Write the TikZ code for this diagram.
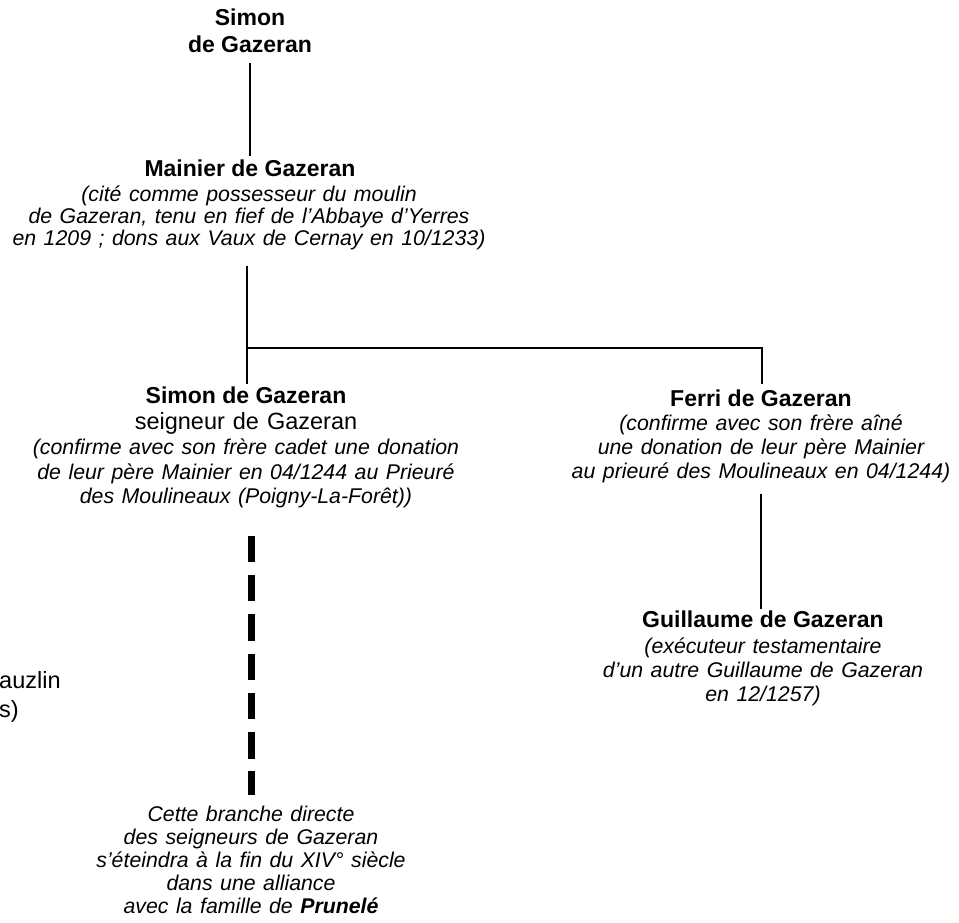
\documentclass[tikz,border=0pt]{standalone}
\usepackage{fontspec}
\setmainfont{Liberation Sans}
\newcommand\gzNameFont{\fontsize{23}{27}\selectfont\bfseries}
\newcommand\gzDescFont{\fontsize{21.3}{24}\selectfont\itshape\spaceskip 7.5pt\relax}
\newcommand\gzRegFont{\fontsize{23.5}{27}\selectfont\spaceskip 8pt\relax}
\begin{document}
\begin{tikzpicture}[x=1pt,y=-1pt,
  nm/.style={font=\gzNameFont, anchor=base, inner sep=0pt},
  dsc/.style={font=\gzDescFont, anchor=base, inner sep=0pt},
  reg/.style={font=\gzRegFont, anchor=base, inner sep=0pt},
  link/.style={line width=2.5pt},
  dashline/.style={line width=7pt, dash pattern=on 26.5pt off 12.8pt}]
\useasboundingbox (0,0) rectangle (959,923);
\fill[white] (0,0) rectangle (959,923);

% top ancestor
\node[nm] (simA) at (250,26) {Simon};
\node[nm] (simB) at (250,53) {de Gazeran};

% Mainier
\node[nm] (main) at (250,176) {Mainier de Gazeran};
\node[dsc] (mainD1) at (249,201) {(cité comme possesseur du moulin};
\node[dsc] (mainD2) at (249,223) {de Gazeran, tenu en fief de l’Abbaye d’Yerres};
\node[dsc] (mainD3) at (249,245) {en 1209 ; dons aux Vaux de Cernay en 10/1233)};

% Simon (son)
\node[nm] (simon) at (246,403) {Simon de Gazeran};
\node[reg] (simonR) at (246,429) {seigneur de Gazeran};
\node[dsc] (simonD1) at (246,454) {(confirme avec son frère cadet une donation};
\node[dsc] (simonD2) at (246,479) {de leur père Mainier en 04/1244 au Prieuré};
\node[dsc] (simonD3) at (246,503) {des Moulineaux (Poigny-La-Forêt))};

% Ferri
\node[nm] (ferri) at (761,406) {Ferri de Gazeran};
\node[dsc] (ferriD1) at (761,430) {(confirme avec son frère aîné};
\node[dsc] (ferriD2) at (761,454) {une donation de leur père Mainier};
\node[dsc] (ferriD3) at (761,478) {au prieuré des Moulineaux en 04/1244)};

% Guillaume
\node[nm] (guil) at (763,627) {Guillaume de Gazeran};
\node[dsc] (guilD1) at (763,653) {(exécuteur testamentaire};
\node[dsc] (guilD2) at (763,677) {d’un autre Guillaume de Gazeran};
\node[dsc] (guilD3) at (763,701) {en 12/1257)};

% end of branch
\node[dsc] (endD1) at (251,821) {Cette branche directe};
\node[dsc] (endD2) at (251,844) {des seigneurs de Gazeran};
\node[dsc] (endD3) at (251,867) {s’éteindra à la fin du XIV° siècle};
\node[dsc] (endD4) at (251,890) {dans une alliance};
\node[dsc] (endD5) at (251,913) {avec la famille de {\bfseries Prunelé}};

% cut-off text at the left edge
\node[reg, anchor=base west] (leftA) at (-1,688) {auzlin};
\node[reg, anchor=base west] (leftB) at (-1,717) {s)};

% connectors
\coordinate (jct) at (247,348);
\coordinate (jctR) at (762,348);
\draw[link, shorten <=10pt, shorten >=3pt] (simB.south) -- (simB.south |- main.north);
\draw[link, shorten <=16pt] (jct |- mainD3.south) -- (jct);
\draw[link, shorten <=2pt, shorten >=5pt] (jct |- simon.north) -- (jct) -- (jctR) -- (jctR |- ferri.north);
\draw[link, shorten <=11pt, shorten >=1pt] (ferriD3.south) -- (ferriD3.south |- guil.north);
\draw[dashline, shorten <=28pt, shorten >=10pt] (endD1.north |- simonD3.south) -- (endD1.north);
\end{tikzpicture}
\end{document}
